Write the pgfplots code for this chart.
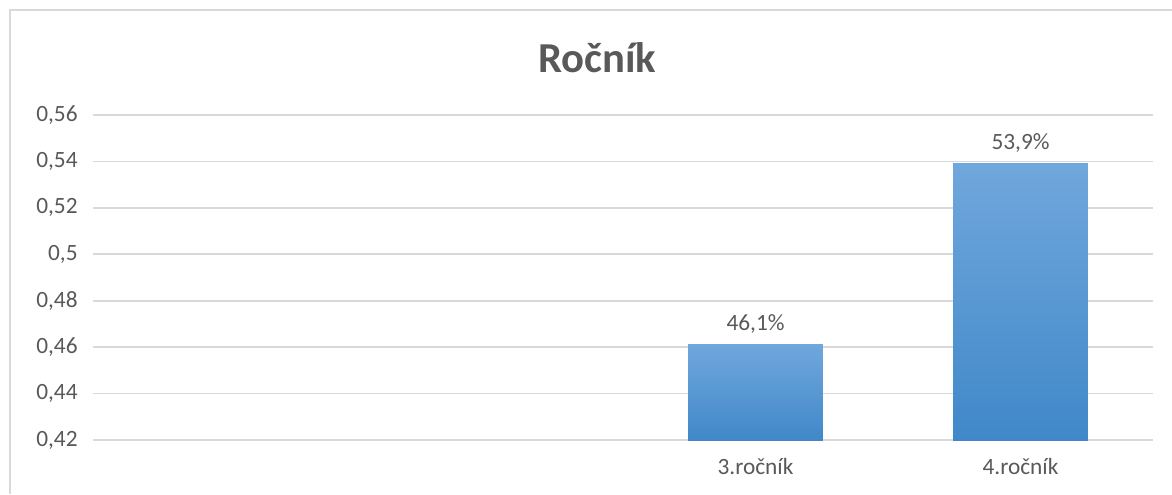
\documentclass[border=0pt]{standalone}
\usepackage{fontspec}
\setmainfont{Carlito}
\usepackage{pgfplots}
\pgfplotsset{compat=1.18}
\usepackage{pgfplotstable}
\definecolor{txt}{HTML}{595959}
\definecolor{grd}{HTML}{D9D9D9}
\definecolor{bartop}{HTML}{70A7DC}
\definecolor{barbot}{HTML}{4088C9}
\pgfplotstableread{
x y
2 0.461
}\tabA
\pgfplotstableread{
x y
3 0.539
}\tabB
\begin{document}
\begin{tikzpicture}
\begin{axis}[
  name=ax,
  scale only axis,
  width=795pt, height=243.75pt,
  xmin=-0.5, xmax=3.5,
  ymin=0.42, ymax=0.56,
  ytick={0.42,0.44,0.46,0.48,0.5,0.52,0.54,0.56},
  xtick={2,3},
  xticklabels={3.ročník,4.ročník},
  axis line style={draw=none},
  major tick length=0pt,
  ymajorgrids,
  grid style={grd, line width=1.3pt},
  font=\fontsize{17.5pt}{21pt}\selectfont,
  tick label style={txt, font=\fontsize{17.5pt}{21pt}\selectfont},
  yticklabel style={/pgf/number format/fixed, /pgf/number format/precision=2, /pgf/number format/use comma, /pgf/number format/assume math mode=true, xshift=-8pt},
  scaled y ticks=false,
  xticklabel style={yshift=-10pt},
  clip=false,
  ybar, bar width=101pt, bar shift=0pt,
  point meta={y*100},
  nodes near coords={\pgfmathprintnumber[fixed,fixed zerofill,precision=1,use comma,assume math mode=true]{\pgfplotspointmeta}\%},
  every node near coord/.append style={txt, font=\fontsize{17.5pt}{21pt}\selectfont, yshift=5pt},
]
\addplot[draw=none, top color=bartop, bottom color=barbot] table[x=x,y=y] {\tabA};
\addplot[draw=none, top color=bartop, bottom color=barbot] table[x=x,y=y] {\tabB};
\end{axis}
\node[txt, font=\fontsize{32pt}{38pt}\selectfont\bfseries] at ([shift={(378pt,287pt)}]ax.south west) {Ročník};
\draw[grd, line width=1pt] ([shift={(-62.25pt,-40.5pt)}]ax.south west) -- ([shift={(-62.25pt,322.5pt)}]ax.south west) -- ([shift={(809.25pt,322.5pt)}]ax.south west);
\pgfresetboundingbox
\path[use as bounding box] ([shift={(-69.75pt,-40.5pt)}]ax.south west) rectangle ([shift={(809.25pt,330pt)}]ax.south west);
\end{tikzpicture}
\end{document}
